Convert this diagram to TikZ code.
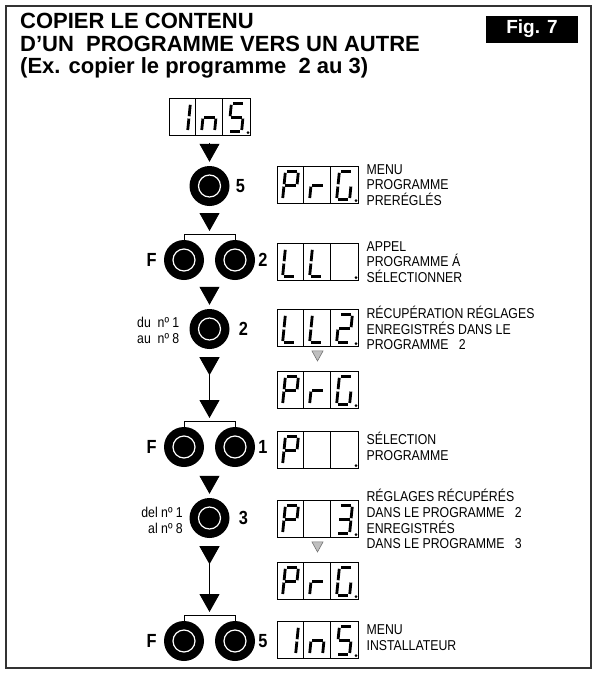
\documentclass[tikz,border=0pt]{standalone}
\usepackage{fontspec}
\setmainfont{Liberation Sans}
\newfontfamily\narrowsans[FakeStretch=0.86]{Liberation Sans}
\usetikzlibrary{positioning,arrows.meta}

% seven-segment strokes, local frame: bottom-left of the digit, y pointing down
\def\sga{(1.4,-28) -- (11.6,-28)}
\def\sgb{(13,-26.6) -- (13,-15.2)}
\def\sgc{(13,-12.8) -- (13,-1.4)}
\def\sgd{(1.4,0) -- (11.6,0)}
\def\sge{(0,-1.4) -- (0,-12.8)}
\def\sgf{(0,-15.2) -- (0,-26.6)}
\def\sgg{(1.4,-14) -- (11.6,-14)}

% #1 display node, #2 cell (1..3), #3 list of segments
\newcommand\digit[3]{%
  \begin{scope}[shift={(#1.south west)}, shift={(27*#2-21,-4.5)}, xslant=0.1]
    \foreach \s in {#3}{\edef\seg{\csname sg\s\endcsname}\draw[segline] \seg;}
  \end{scope}}

% three-cell display with decimal point
\newcommand\lcd[2]{%
  \node[lcdbox] (#1) at #2 {};
  \draw[lcdline] ([xshift=27pt]#1.north west) -- ([xshift=27pt]#1.south west)
                 ([xshift=54pt]#1.north west) -- ([xshift=54pt]#1.south west);
  \fill ([shift={(-2.3,-3.3)}]#1.south east) circle (1.5pt);}

\begin{document}
\begin{tikzpicture}[
  x=1pt, y=-1pt,
  title/.style={anchor=north west, align=left, inner sep=0pt,
                font=\bfseries\fontsize{22}{22.5}\selectfont},
  figtag/.style={fill=black, text=white, minimum width=92pt, minimum height=27pt,
                 inner sep=0pt, font=\bfseries\fontsize{19}{19}\selectfont},
  lcdbox/.style={draw, line width=0.8pt, minimum width=81pt, minimum height=37pt, inner sep=0pt},
  lcdline/.style={line width=0.8pt},
  segline/.style={line width=2.8pt},
  knob/.style={circle, fill=black, minimum size=40pt, inner sep=0pt,
               path picture={\draw[white, line width=1.2pt]
                 (path picture bounding box.center) circle (11pt);}},
  keylbl/.style={inner sep=0pt, font=\narrowsans\bfseries\fontsize{19}{19}\selectfont},
  note/.style={align=left, inner sep=0pt, font=\narrowsans\fontsize{14.3}{15.8}\selectfont},
  rangetxt/.style={inner sep=0pt, font=\narrowsans\fontsize{14.3}{16}\selectfont},
  bracket/.style={line width=0.9pt},
  tri/.style={-{Triangle[width=20pt,length=18pt]}, line width=0.8pt,
              shorten <=7pt, shorten >=4pt},
  longtri/.style={{Triangle[width=20pt,length=18pt,reversed]}-{Triangle[width=20pt,length=18pt]},
                  line width=1pt, shorten <=8pt, shorten >=4pt},
  greytri/.style={-{Triangle[width=12pt,length=11pt,fill=black!25]}, draw=black!55,
                  line width=0.6pt, shorten <=4.5pt, shorten >=9.5pt},
]
  \useasboundingbox (0,0) rectangle (597,675);
  \draw[line width=1.3pt, black!80] (6,6) rectangle (591,668);

  % heading
  \node[title] (head) at (20,13) {COPIER LE CONTENU\\D’UN~ PROGRAMME VERS UN AUTRE\\(Ex. copier le programme~ 2 au 3)};
  \node[figtag] (fig) at (532,29) {Fig. 7};

  % displays
  \lcd{ins1}{(209.5,117)}
  \digit{ins1}{1}{b,c} \digit{ins1}{2}{c,e,g} \digit{ins1}{3}{a,f,g,c,d}
  \lcd{prg1}{(317.5,185)}
  \digit{prg1}{1}{a,b,f,g,e} \digit{prg1}{2}{e,g} \digit{prg1}{3}{a,f,e,d,c}
  \lcd{ll1}{(317.5,262)}
  \digit{ll1}{1}{f,e,d} \digit{ll1}{2}{f,e,d}
  \lcd{ll2}{(317.5,328)}
  \digit{ll2}{1}{f,e,d} \digit{ll2}{2}{f,e,d} \digit{ll2}{3}{a,b,g,e,d}
  \lcd{prg2}{(317.5,390)}
  \digit{prg2}{1}{a,b,f,g,e} \digit{prg2}{2}{e,g} \digit{prg2}{3}{a,f,e,d,c}
  \lcd{psel}{(317.5,450)}
  \digit{psel}{1}{a,b,f,g,e}
  \lcd{p3}{(317.5,519)}
  \digit{p3}{1}{a,b,f,g,e} \digit{p3}{3}{a,b,g,c,d}
  \lcd{prg3}{(317.5,581)}
  \digit{prg3}{1}{a,b,f,g,e} \digit{prg3}{2}{e,g} \digit{prg3}{3}{a,f,e,d,c}
  \lcd{ins2}{(317.5,640)}
  \digit{ins2}{1}{b,c} \digit{ins2}{2}{c,e,g} \digit{ins2}{3}{a,f,g,c,d}

  % keys
  \node[knob] (b5) at (209.5,186) {};
  \node[knob] (pf2) at (184,260) {};
  \node[knob] (p2) at (235,260) {};
  \node[knob] (b2) at (209.5,329) {};
  \node[knob] (pf1) at (184,447) {};
  \node[knob] (p1) at (235,447) {};
  \node[knob] (b3) at (209.5,518) {};
  \node[knob] (pf5) at (184,641) {};
  \node[knob] (p5) at (235,641) {};

  \node[keylbl, right=6pt of b5] {5};
  \node[keylbl, left=7pt of pf2] {F};
  \node[keylbl, right=3pt of p2] {2};
  \node[keylbl, right=9pt of b2] {2};
  \node[keylbl, left=7pt of pf1] {F};
  \node[keylbl, right=3pt of p1] {1};
  \node[keylbl, right=9pt of b3] {3};
  \node[keylbl, left=7pt of pf5] {F};
  \node[keylbl, right=3pt of p5] {5};

  \node[rangetxt, align=left, anchor=west] (du) at (137,330) {du~ nº 1\\au~ nº 8};
  \node[rangetxt, align=right, anchor=east] (del) at (183,520) {del nº 1\\al nº 8};

  % pair brackets
  \draw[bracket] (pf2.north) -- ++(0,-5) -| (p2.north);
  \draw[bracket] (pf1.north) -- ++(0,-5) -| (p1.north);
  \draw[bracket] (pf5.north) -- ++(0,-5) -| (p5.north);
  \coordinate (top2) at (209.5,235);
  \coordinate (bot2) at (209.5,280);
  \coordinate (top1) at (209.5,422);
  \coordinate (bot1) at (209.5,467);
  \coordinate (top5) at (209.5,616);

  % flow
  \draw[tri] (ins1) -- (b5);
  \draw[tri] (b5) -- (top2);
  \draw[tri] (bot2) -- (b2);
  \draw[longtri] (b2) -- (top1);
  \draw[tri, shorten <=9pt] (bot1) -- (b3);
  \draw[longtri] (b3) -- (top5);
  \draw[greytri] (ll2) -- (prg2);
  \draw[greytri] (p3) -- (prg3);

  % notes
  \node[note, right=8pt of prg1] {MENU\\PROGRAMME\\PRERÉGLÉS};
  \node[note, right=8pt of ll1] {APPEL\\PROGRAMME Á\\SÉLECTIONNER};
  \node[note, right=8pt of ll2] {RÉCUPÉRATION RÉGLAGES\\ENREGISTRÉS DANS LE\\PROGRAMME~~ 2};
  \node[note, right=8pt of psel, yshift=4pt] {SÉLECTION\\PROGRAMME};
  \node[note, right=8pt of p3] {RÉGLAGES RÉCUPÉRÉS\\DANS LE PROGRAMME~~ 2\\ENREGISTRÉS\\DANS LE PROGRAMME~~ 3};
  \node[note, right=8pt of ins2, yshift=2pt] {MENU\\INSTALLATEUR};
\end{tikzpicture}
\end{document}
